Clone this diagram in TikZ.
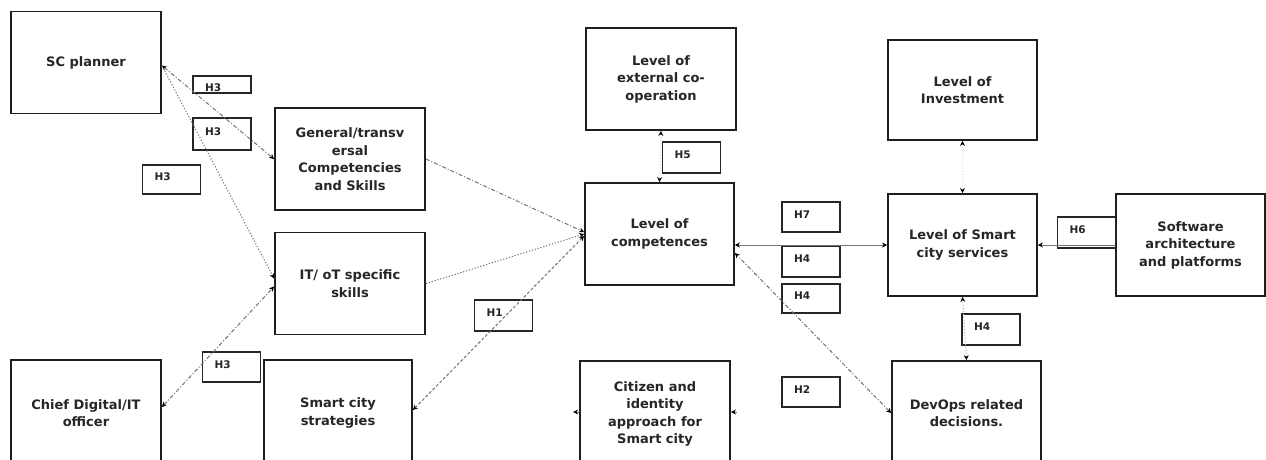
\documentclass[tikz,border=0pt]{standalone}
\usepackage{fontspec}
\usetikzlibrary{arrows.meta,calc}
\newfontfamily\lf{DejaVu Sans}
\begin{document}
\begin{tikzpicture}[x=1pt,y=-1pt,
  box/.style={draw=black!88,line width=1.8pt,minimum width=150pt,minimum height=102pt,inner sep=0pt,align=center,
    font=\fontsize{13}{17.5}\selectfont\lf\bfseries,text=black!85},
  hbox/.style={draw=black!85,line width=1.6pt,text width=34pt,inner xsep=12pt,inner ysep=0pt,minimum height=30pt,align=left,
    text height=8pt,text depth=6pt,
    font=\fontsize{10.5}{12}\selectfont\lf\bfseries,text=black!85},
  con/.style={draw=black!55,line width=1pt},
  ddot/.style={dash pattern=on 4pt off 2pt on 1pt off 2pt},
  dotl/.style={dash pattern=on 1.2pt off 1.8pt},
  dsh/.style={dash pattern=on 3pt off 2pt},
  >={Stealth[length=5pt,width=5pt,color=black]}]
\useasboundingbox (0,0) rectangle (1266,459);
\clip (0,0) rectangle (1266,459);
\fill[white] (0,0) rectangle (1266,459);
% main boxes
\node[box] (sc)   at (86,62.5)    {SC planner};
\node[box] (gen)  at (350,159)    {General/transv\\ersal\\Competencies\\and Skills};
\node[box] (itot) at (350,283.5)  {IT/ oT specific\\skills};
\node[box,minimum height=106pt] (cdo)  at (86,413)  {Chief Digital/IT\\officer};
\node[box,minimum height=106pt,minimum width=148pt] (scs)  at (338,413) {Smart city\\strategies};
\node[box] (ext)  at (661,79)     {Level of\\external co-\\operation};
\node[box,minimum width=149pt] (comp) at (659.5,234) {Level of\\competences};
\node[box,minimum height=106pt] (cit)  at (655,414) {Citizen and\\identity\\approach for\\Smart city};
\node[box,minimum width=149pt,minimum height=100pt] (inv)  at (962.5,90) {Level of\\Investment};
\node[box,minimum width=149pt] (svc)  at (962.5,245) {Level of Smart\\city services};
\node[box,minimum width=149pt] (sw)   at (1190.5,245) {Software\\architecture\\and platforms};
\node[box,minimum width=149pt,minimum height=104pt] (dev)  at (966.5,413) {DevOps related\\decisions.};
% H boxes
\node[hbox,minimum height=17pt,text height=14.7pt,text depth=0pt] (h3a) at (222,84.5) {H3};
\node[hbox,minimum height=32pt] (h3b) at (222,134) {H3};
\node[hbox,minimum height=29pt] (h3c) at (171.5,179.5) {H3};
\node[hbox] (h3d) at (231.5,367) {H3};
\node[hbox,minimum height=31pt] (h1)  at (503.5,315.5) {H1};
\node[hbox,minimum height=31pt] (h5)  at (691.5,157.5) {H5};
\node[hbox] (h7)  at (811,217) {H7};
\node[hbox,minimum height=31pt] (h4a) at (811,261.5) {H4};
\node[hbox,minimum height=29pt] (h4b) at (811,298.5) {H4};
\node[hbox] (h2)  at (811,392) {H2};
\node[hbox,minimum height=31pt] (h4c) at (991,329.5) {H4};
\node[hbox,minimum height=31pt] (h6)  at (1086.5,232.5) {H6};
% connectors
\draw[con,ddot,<->] ([yshift=-3pt]sc.east) -- (gen.west);
\draw[con,dotl,->] ([yshift=-3pt]sc.east) -- ([yshift=5pt]itot.west);
\draw[con,ddot,<->] ([yshift=6pt]cdo.east) -- ([yshift=-3pt]itot.west);
\draw[con,ddot,->] (gen.east) -- ([yshift=2pt]comp.west);
\draw[con,dotl,->] (itot.east) -- (comp.west);
\draw[con,dsh,<->] ([yshift=3pt]scs.east) -- ([yshift=-2pt]comp.west);
\draw[con,dotl,draw=black!15,<->] (ext.south) -- (comp.north);
\draw[con,<->] (svc.west) -- (svc.west -| comp.east);
\draw[con,ddot,<->] (dev.west) -- ([yshift=-19pt]comp.east);
\draw[con,dotl,draw=black!12,<->] (inv.south) -- (svc.north);
\draw[con,->] (sw.west) -- (svc.east);
\draw[con,dotl,draw=black!30,<->] (dev.north) -- (svc.south);
\coordinate (citl) at ([xshift=-6pt,yshift=2pt]cit.west);
\coordinate (citr) at ([xshift=6pt,yshift=2pt]cit.east);
\draw[con,->] ([yshift=2pt]cit.west) -- (citl);
\draw[con,->] (citr) -- ([yshift=2pt]cit.east);
\end{tikzpicture}
\end{document}
